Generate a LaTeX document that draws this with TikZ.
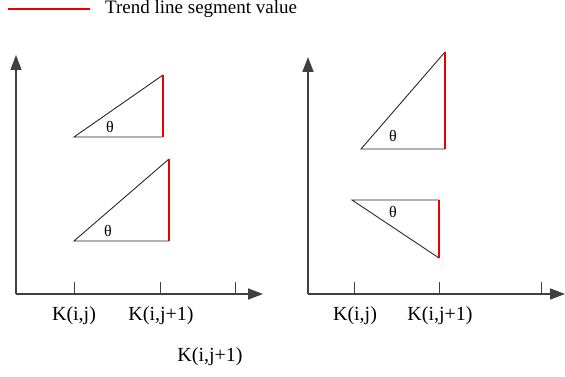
\documentclass[tikz,border=0pt]{standalone}
\usepackage{fontspec}
\setmainfont{Liberation Serif}
\usetikzlibrary{arrows.meta}
\definecolor{trendred}{RGB}{235,0,0}
\definecolor{axisgray}{RGB}{64,64,64}
\definecolor{trigray}{RGB}{40,40,40}
\begin{document}
\begin{tikzpicture}[x=1pt,y=-1pt,
  axis/.style={color=axisgray,line width=1.6pt,-{Triangle[length=15pt,width=11pt]}},
  tick/.style={color=axisgray,line width=1pt},
  tri/.style={color=trigray,line width=0.9pt},
  trend/.style={color=trendred,line width=2pt},
  lbl/.style={font=\fontsize{20}{22}\selectfont,inner sep=0pt},
  th/.style={font=\fontsize{16}{18}\selectfont,inner sep=0pt}]
\useasboundingbox (0,0) rectangle (565,377);
% legend
\coordinate (l1) at (8,9);
\coordinate (l2) at (90,9);
\node[lbl,anchor=west,font=\fontsize{19}{21}\selectfont] (leg) at (105,9) {Trend line segment value};
% left plot axes
\coordinate (LO) at (16,294);
\coordinate (LY) at (16,55);
\coordinate (LX) at (263,294);
\draw[axis] (LO) -- (LY);
\draw[axis] (LO) -- (LX);
\coordinate (Lta) at (74,294);
\coordinate (Ltb) at (160,294);
\coordinate (Ltc) at (235,294);
\draw[tick] (Lta) -- ++(0,-12);
\draw[tick] (Ltb) -- ++(0,-12);
\draw[tick] (Ltc) -- ++(0,-12);
% right plot axes
\coordinate (RO) at (308,294);
\coordinate (RY) at (308,57);
\coordinate (RX) at (565,294);
\draw[axis] (RO) -- (RY);
\draw[axis] (RO) -- (RX);
\coordinate (Rta) at (354,294);
\coordinate (Rtb) at (439,294);
\coordinate (Rtc) at (541,294);
\draw[tick] (Rta) -- ++(0,-12);
\draw[tick] (Rtb) -- ++(0,-12);
\draw[tick] (Rtc) -- ++(0,-12);
% triangle corners
\coordinate (A1) at (74,137);
\coordinate (A2) at (163,137);
\coordinate (A3) at (163,75);
\coordinate (B1) at (74,241);
\coordinate (B2) at (169,241);
\coordinate (B3) at (169,159);
\coordinate (C1) at (361,149);
\coordinate (C2) at (445,149);
\coordinate (C3) at (445,52);
\coordinate (D1) at (352,200);
\coordinate (D2) at (439,200);
\coordinate (D3) at (439,258);
% black sides
\draw[tri] (A3) -- (A1) -- (A2);
\draw[tri] (B3) -- (B1) -- (B2);
\draw[tri] (C3) -- (C1) -- (C2);
\draw[tri] (D3) -- (D1) -- (D2);
% red sides
\draw[trend] (l1) -- (l2);
\draw[trend] (A2) -- (A3);
\draw[trend] (B2) -- (B3);
\draw[trend] (C2) -- (C3);
\draw[trend] (D2) -- (D3);
% angle labels
\node[th] (tA) at (110,127) {θ};
\node[th] (tB) at (108,231) {θ};
\node[th] (tC) at (393,136) {θ};
\node[th] (tD) at (393,212) {θ};
% labels
\node[lbl] (k1) at (74,316) {K(i,j)};
\node[lbl] (k2) at (161,316) {K(i,j+1)};
\node[lbl] (k3) at (355,316) {K(i,j)};
\node[lbl] (k4) at (440,316) {K(i,j+1)};
\node[lbl] (k5) at (210,357) {K(i,j+1)};
\end{tikzpicture}
\end{document}
